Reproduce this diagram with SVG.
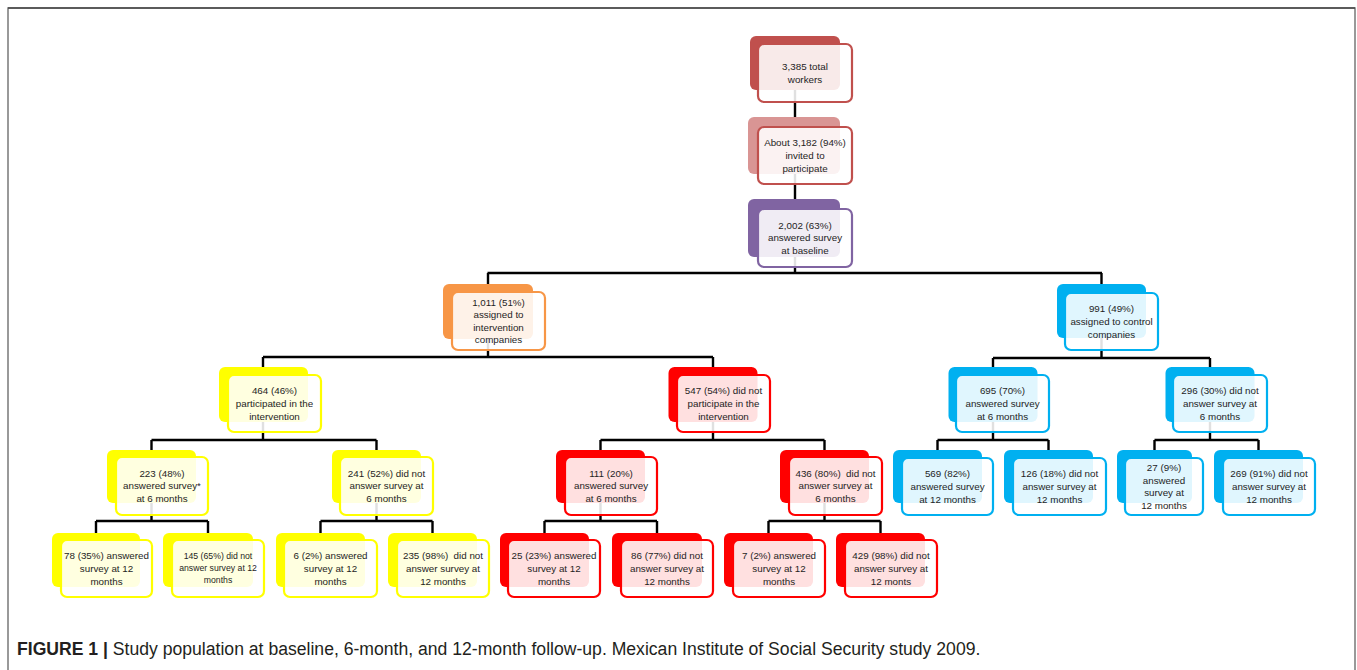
<svg xmlns="http://www.w3.org/2000/svg" width="1357" height="670" viewBox="0 0 1357 670">
<style>
.bk{stroke:none}
.fr{fill:#fff;fill-opacity:0.88;stroke-width:2.2}
.t{font-family:"Liberation Sans",Arial,sans-serif;font-size:9.8px;fill:#1e1e1e;text-anchor:middle;white-space:pre}
.r1 .bk{fill:#C0504D}.r1 .fr{stroke:#C0504D}
.r2 .bk{fill:#D99594}.r2 .fr{stroke:#C0504D}
.pu .bk{fill:#8064A2}.pu .fr{stroke:#8064A2}
.or .bk{fill:#F79646}.or .fr{stroke:#F79646}
.ye .bk{fill:#FFFF00}.ye .fr{stroke:#FFFF00}
.rd .bk{fill:#FF0000}.rd .fr{stroke:#FF0000}
.bl .bk{fill:#00B0F0}.bl .fr{stroke:#00B0F0}
.cn{fill:none;stroke:#000;stroke-width:2.4}
.cap{font-family:"Liberation Sans",Arial,sans-serif;font-size:17.6px;fill:#231f20}
</style>
<rect width="1357" height="670" fill="#fff"/>
<path d="M8,670 V8 H1355 V670" fill="none" stroke="#808080" stroke-width="1.6"/>
<line x1="8" y1="8" x2="1355" y2="8" stroke="#444" stroke-width="1.6"/>

<g id="connectors" class="cn">
<path d="M795,63 V273 M487.5,273 H1102 M488,273 V284 M1101.5,273 V284"/>
<path d="M488,320 V357 M263,357 H713 M263,357 V367 M713,357 V367"/>
<path d="M1101.5,320 V358 M993,358 H1210 M993,358 V367 M1210,358 V367"/>
<path d="M263,400 V440 M151.5,440 H376.5 M151.5,440 V450 M376.5,440 V450"/>
<path d="M713,400 V440 M600.5,440 H824.5 M600.5,440 V450 M824.5,440 V450"/>
<path d="M993,400 V440 M937.5,440 H1048.5 M937.5,440 V450 M1048.5,440 V450"/>
<path d="M1210,400 V440 M1154.5,440 H1258.5 M1154.5,440 V450 M1258.5,440 V450"/>
<path d="M151.5,480 V521 M96,521 H208 M96,521 V533 M208,521 V533"/>
<path d="M376.5,480 V521 M320.5,521 H432.5 M320.5,521 V533 M432.5,521 V533"/>
<path d="M600.5,480 V521 M544.5,521 H657 M544.5,521 V533 M657,521 V533"/>
<path d="M824.5,480 V521 M768.5,521 H880.5 M768.5,521 V533 M880.5,521 V533"/>
</g>

<g id="n1" class="r1"><rect class="bk" x="750" y="36" width="90" height="54" rx="6"/><rect class="fr" x="758" y="44" width="94" height="58" rx="6"/>
<text class="t" y="70.1"><tspan x="805">3,385 total</tspan><tspan x="805" dy="12.6">workers</tspan></text></g>

<g id="n2" class="r2"><rect class="bk" x="748" y="117" width="92" height="57" rx="6"/><rect class="fr" x="758" y="127" width="94" height="57" rx="6"/>
<text class="t" y="146.3"><tspan x="805">About 3,182 (94%)</tspan><tspan x="805" dy="12.6">invited to</tspan><tspan x="805" dy="12.6">participate</tspan></text></g>

<g id="n3" class="pu"><rect class="bk" x="748" y="199" width="92" height="58" rx="6"/><rect class="fr" x="758" y="209" width="94" height="58" rx="6"/>
<text class="t" y="228.8"><tspan x="805">2,002 (63%)</tspan><tspan x="805" dy="12.6">answered survey</tspan><tspan x="805" dy="12.6">at baseline</tspan></text></g>

<g id="nA" class="or"><rect class="bk" x="443" y="284" width="90" height="55" rx="6"/><rect class="fr" x="452" y="292" width="93" height="58" rx="6"/>
<text class="t" y="305.5"><tspan x="498.5">1,011 (51%)</tspan><tspan x="498.5" dy="12.6">assigned to</tspan><tspan x="498.5" dy="12.6">intervention</tspan><tspan x="498.5" dy="12.6">companies</tspan></text></g>

<g id="nB" class="bl"><rect class="bk" x="1057" y="284" width="89" height="54" rx="6"/><rect class="fr" x="1065" y="293" width="93" height="57" rx="6"/>
<text class="t" y="312.3"><tspan x="1111.5">991 (49%)</tspan><tspan x="1111.5" dy="12.6">assigned to control</tspan><tspan x="1111.5" dy="12.6">companies</tspan></text></g>

<g id="nC" class="ye"><rect class="bk" x="219" y="367" width="89" height="55" rx="6"/><rect class="fr" x="228" y="375" width="93" height="57" rx="6"/>
<text class="t" y="394.3"><tspan x="274.5">464 (46%)</tspan><tspan x="274.5" dy="12.6">participated in the</tspan><tspan x="274.5" dy="12.6">intervention</tspan></text></g>

<g id="nD" class="rd"><rect class="bk" x="668.5" y="367" width="89" height="55" rx="6"/><rect class="fr" x="677" y="375" width="93" height="57" rx="6"/>
<text class="t" y="394.3"><tspan x="723.5">547 (54%) did not</tspan><tspan x="723.5" dy="12.6">participate in the</tspan><tspan x="723.5" dy="12.6">intervention</tspan></text></g>

<g id="nE" class="bl"><rect class="bk" x="948.5" y="367" width="89" height="55" rx="6"/><rect class="fr" x="956" y="375" width="93" height="57" rx="6"/>
<text class="t" y="394.3"><tspan x="1002.5">695 (70%)</tspan><tspan x="1002.5" dy="12.6">answered survey</tspan><tspan x="1002.5" dy="12.6">at 6 months</tspan></text></g>

<g id="nF" class="bl"><rect class="bk" x="1165.5" y="367" width="89" height="55" rx="6"/><rect class="fr" x="1173" y="375" width="94" height="57" rx="6"/>
<text class="t" y="394.3"><tspan x="1220">296 (30%) did not</tspan><tspan x="1220" dy="12.6">answer survey at</tspan><tspan x="1220" dy="12.6">6 months</tspan></text></g>

<g id="nG" class="ye"><rect class="bk" x="107" y="450" width="89" height="53" rx="6"/><rect class="fr" x="116" y="457" width="92" height="58" rx="6"/>
<text class="t" y="476.8"><tspan x="162">223 (48%)</tspan><tspan x="162" dy="12.6">answered survey*</tspan><tspan x="162" dy="12.6">at 6 months</tspan></text></g>

<g id="nH" class="ye"><rect class="bk" x="332" y="450" width="89" height="53" rx="6"/><rect class="fr" x="340" y="457" width="93" height="58" rx="6"/>
<text class="t" y="476.8"><tspan x="386.5">241 (52%) did not</tspan><tspan x="386.5" dy="12.6">answer survey at</tspan><tspan x="386.5" dy="12.6">6 months</tspan></text></g>

<g id="nI" class="rd"><rect class="bk" x="556" y="450" width="89" height="53" rx="6"/><rect class="fr" x="565" y="457" width="92" height="58" rx="6"/>
<text class="t" y="476.8"><tspan x="611">111 (20%)</tspan><tspan x="611" dy="12.6">answered survey</tspan><tspan x="611" dy="12.6">at 6 months</tspan></text></g>

<g id="nJ" class="rd"><rect class="bk" x="780" y="450" width="89" height="53" rx="6"/><rect class="fr" x="789" y="457" width="93" height="58" rx="6"/>
<text class="t" y="476.8"><tspan x="835.5">436 (80%)  did not</tspan><tspan x="835.5" dy="12.6">answer survey at</tspan><tspan x="835.5" dy="12.6">6 months</tspan></text></g>

<g id="nK" class="bl"><rect class="bk" x="893" y="450" width="89" height="53" rx="6"/><rect class="fr" x="902" y="458" width="91" height="57" rx="6"/>
<text class="t" y="477.3"><tspan x="947.5">569 (82%)</tspan><tspan x="947.5" dy="12.6">answered survey</tspan><tspan x="947.5" dy="12.6">at 12 months</tspan></text></g>

<g id="nL" class="bl"><rect class="bk" x="1004" y="450" width="89" height="53" rx="6"/><rect class="fr" x="1013" y="458" width="93" height="57" rx="6"/>
<text class="t" y="477.3"><tspan x="1059.5">126 (18%) did not</tspan><tspan x="1059.5" dy="12.6">answer survey at</tspan><tspan x="1059.5" dy="12.6">12 months</tspan></text></g>

<g id="nM" class="bl"><rect class="bk" x="1117" y="450" width="75" height="53" rx="6"/><rect class="fr" x="1125" y="458" width="78" height="57" rx="6"/>
<text class="t" y="471"><tspan x="1164">27 (9%)</tspan><tspan x="1164" dy="12.6">answered</tspan><tspan x="1164" dy="12.6">survey at</tspan><tspan x="1164" dy="12.6">12 months</tspan></text></g>

<g id="nN" class="bl"><rect class="bk" x="1214" y="450" width="89" height="53" rx="6"/><rect class="fr" x="1223" y="458" width="92" height="57" rx="6"/>
<text class="t" y="477.3"><tspan x="1269">269 (91%) did not</tspan><tspan x="1269" dy="12.6">answer survey at</tspan><tspan x="1269" dy="12.6">12 months</tspan></text></g>

<g id="nO" class="ye"><rect class="bk" x="52" y="533" width="88" height="54" rx="6"/><rect class="fr" x="61" y="540" width="91" height="57" rx="6"/>
<text class="t" y="559.3"><tspan x="106.5">78 (35%) answered</tspan><tspan x="106.5" dy="12.6">survey at 12</tspan><tspan x="106.5" dy="12.6">months</tspan></text></g>

<g id="nP" class="ye"><rect class="bk" x="163" y="533" width="90" height="54" rx="6"/><rect class="fr" x="172" y="540" width="92" height="57" rx="6"/>
<text class="t" y="559.3" style="font-size:8.7px"><tspan x="218">145 (65%) did not</tspan><tspan x="218" dy="12">answer survey at 12</tspan><tspan x="218" dy="12">months</tspan></text></g>

<g id="nQ" class="ye"><rect class="bk" x="276" y="533" width="89" height="54" rx="6"/><rect class="fr" x="284" y="540" width="93" height="57" rx="6"/>
<text class="t" y="559.3"><tspan x="330.5">6 (2%) answered</tspan><tspan x="330.5" dy="12.6">survey at 12</tspan><tspan x="330.5" dy="12.6">months</tspan></text></g>

<g id="nR" class="ye"><rect class="bk" x="388" y="533" width="89" height="54" rx="6"/><rect class="fr" x="397" y="540" width="92" height="57" rx="6"/>
<text class="t" y="559.3"><tspan x="443">235 (98%)  did not</tspan><tspan x="443" dy="12.6">answer survey at</tspan><tspan x="443" dy="12.6">12 months</tspan></text></g>

<g id="nS" class="rd"><rect class="bk" x="500" y="533" width="89" height="54" rx="6"/><rect class="fr" x="508" y="540" width="92" height="57" rx="6"/>
<text class="t" y="559.3"><tspan x="554">25 (23%) answered</tspan><tspan x="554" dy="12.6">survey at 12</tspan><tspan x="554" dy="12.6">months</tspan></text></g>

<g id="nT" class="rd"><rect class="bk" x="612" y="533" width="90" height="54" rx="6"/><rect class="fr" x="621" y="540" width="92" height="57" rx="6"/>
<text class="t" y="559.3"><tspan x="667">86 (77%) did not</tspan><tspan x="667" dy="12.6">answer survey at</tspan><tspan x="667" dy="12.6">12 months</tspan></text></g>

<g id="nU" class="rd"><rect class="bk" x="724" y="533" width="89" height="54" rx="6"/><rect class="fr" x="733" y="540" width="92" height="57" rx="6"/>
<text class="t" y="559.3"><tspan x="779">7 (2%) answered</tspan><tspan x="779" dy="12.6">survey at 12</tspan><tspan x="779" dy="12.6">months</tspan></text></g>

<g id="nV" class="rd"><rect class="bk" x="836" y="533" width="89" height="54" rx="6"/><rect class="fr" x="845" y="540" width="92" height="57" rx="6"/>
<text class="t" y="559.3"><tspan x="891">429 (98%) did not</tspan><tspan x="891" dy="12.6">answer survey at</tspan><tspan x="891" dy="12.6">12 monts</tspan></text></g>

<text class="cap" x="17" y="655"><tspan font-weight="bold">FIGURE 1</tspan> <tspan font-weight="bold">|</tspan> Study population at baseline, 6-month, and 12-month follow-up. Mexican Institute of Social Security study 2009.</text>
</svg>
